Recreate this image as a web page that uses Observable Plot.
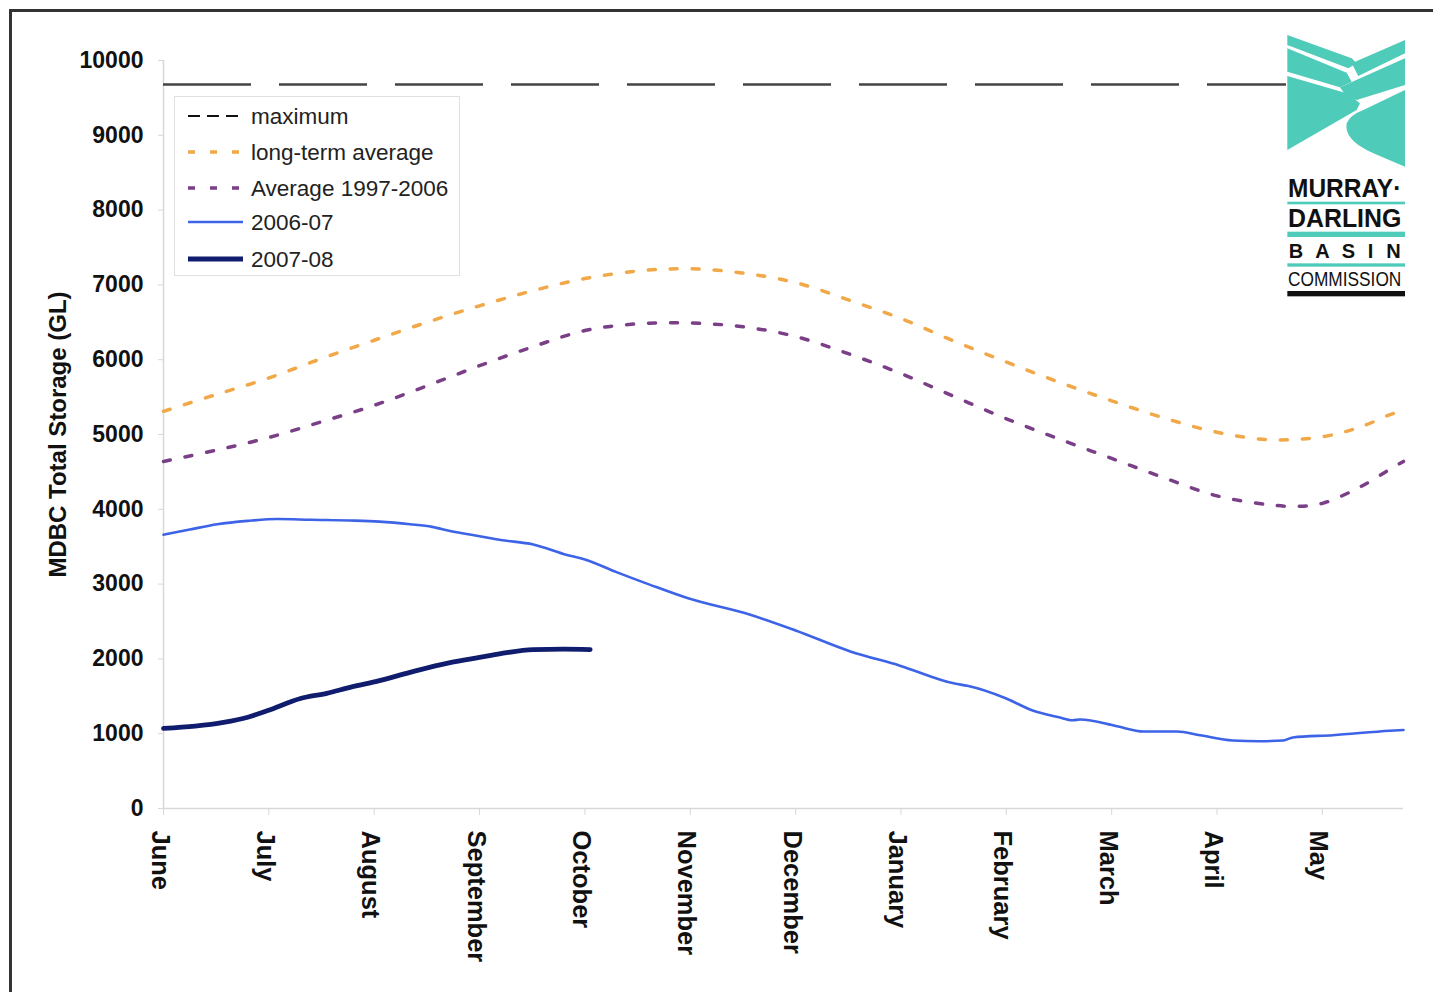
<!DOCTYPE html>
<html>
<head>
<meta charset="utf-8">
<script src="https://cdn.jsdelivr.net/npm/d3@7"></script>
<script src="https://cdn.jsdelivr.net/npm/@observablehq/plot@0.6"></script>
<style>
  html, body { margin: 0; padding: 0; background: #fff; overflow: hidden; width: 1433px; height: 992px; }
  #wrap { position: relative; width: 1433px; height: 992px; font-family: "Liberation Sans", Arial, sans-serif; }
  #frame { position: absolute; left: 9px; top: 9px; width: 1500px; height: 1100px; border: 3px solid #333; box-sizing: border-box; pointer-events: none; }
  #chart { position: absolute; left: 0; top: 0; }
  .overlay { position: absolute; left: 0; top: 0; pointer-events: none; }
</style>
</head>
<body>
<div id="wrap">
  <div id="chart"></div>
  <div id="frame"></div>
</div>
<script>
// ---------- data (x = months since start of June, 0 = June) ----------
const monthLabels = ["June","July","August","September","October","November","December","January","February","March","April","May"];
const monthTicks = [0,1,2,3,4,5,6,7,8,9,10,11];
const xEnd = 11.77;
const yTicks = [0,1000,2000,3000,4000,5000,6000,7000,8000,9000,10000];

const maximumStorage = 9680;

const longTermT = [0,0.49,0.99,1.49,2.0,2.5,3.0,3.5,4.0,4.53,5.0,5.49,6.0,6.5,7.0,7.5,8.0,8.5,9.0,9.5,10.0,10.5,11.0,11.36,11.67,11.77];
const longTermV = [5310,5530,5750,6010,6260,6500,6720,6920,7085,7190,7215,7160,7030,6800,6550,6250,5970,5700,5450,5220,5030,4930,4970,5100,5280,5310];

const avg9706T = [0,0.5,1.0,1.5,2.0,2.5,3.0,3.5,4.0,4.5,5.0,5.5,6.0,6.5,7.0,7.5,8.0,8.5,9.0,9.5,10.0,10.5,10.75,11.0,11.36,11.67,11.77];
const avg9706V = [4640,4790,4960,5170,5390,5650,5920,6170,6390,6480,6490,6440,6310,6080,5815,5510,5210,4940,4680,4420,4180,4060,4040,4080,4300,4560,4640];

const y0607T = [0,0.25,0.51,0.8,1.08,1.4,1.77,2.05,2.34,2.55,2.72,3.0,3.2,3.51,3.83,4.0,4.3,4.62,4.98,5.57,6.0,6.52,6.99,7.51,7.63,8.0,8.25,8.5,8.63,8.7,9.05,9.3,9.62,9.84,10.15,10.4,10.63,10.72,11.1,11.64,11.77];
const y0607V = [3660,3730,3800,3845,3870,3860,3850,3835,3800,3765,3710,3640,3590,3530,3390,3330,3160,2990,2810,2590,2380,2100,1910,1670,1640,1470,1310,1220,1180,1190,1100,1030,1030,980,910,900,910,950,980,1040,1050];

const y0708T = [0,0.3,0.57,0.8,0.99,1.3,1.55,1.77,2.05,2.34,2.72,3.0,3.2,3.51,3.8,4.05];
const y0708V = [1070,1100,1150,1220,1310,1470,1540,1620,1710,1820,1950,2020,2070,2125,2130,2125];

const legendLabels = ["maximum","long-term average","Average 1997-2006","2006-07","2007-08"];

// ---------- styles ----------
const C_MAX = "#444", C_LT = "#f0a848", C_AVG = "#7a3f86", C_0607 = "#3d63e6", C_0708 = "#101c6e";
const zip = (t, v) => t.map((x, i) => ({t: x, v: v[i]}));

const plot = Plot.plot({
  width: 1433,
  height: 992,
  marginLeft: 163,
  marginRight: 30,
  marginTop: 60,
  marginBottom: 184,
  style: {fontFamily: '"Liberation Sans", Arial, sans-serif', background: "transparent", overflow: "visible"},
  x: {domain: [0, xEnd]},
  y: {domain: [0, 10000]},
  marks: [
    Plot.ruleX([0], {stroke: "#d8d8d8", strokeWidth: 1.5}),
    Plot.ruleY([0], {stroke: "#d8d8d8", strokeWidth: 1.5}),
    Plot.axisY({ticks: yTicks, tickSize: 5, tickPadding: 15, stroke: "#d8d8d8", fill: "#111", fontSize: 23, fontWeight: "bold", label: null, tickFormat: d => String(d)}),
    Plot.axisX({ticks: monthTicks, tickSize: 7, stroke: "#d8d8d8", tickFormat: () => "", label: null}),
    Plot.text(monthTicks, {x: d => d, frameAnchor: "bottom", dy: 22, dx: -12, text: d => monthLabels[d], rotate: 90, textAnchor: "start", fontSize: 25.5, fontWeight: "bold", fill: "#111"}),
    Plot.text(["MDBC Total Storage (GL)"], {frameAnchor: "left", dx: -105, rotate: -90, textAnchor: "middle", fontSize: 24, fontWeight: "bold", fill: "#111", text: d => d}),
    Plot.ruleY([maximumStorage], {x1: 0, x2: xEnd, stroke: C_MAX, strokeWidth: 2.5, strokeDasharray: "88,28"}),
    Plot.line(zip(longTermT, longTermV), {x: "t", y: "v", stroke: C_LT, strokeWidth: 3.5, strokeDasharray: "7,15", curve: "catmull-rom"}),
    Plot.line(zip(avg9706T, avg9706V), {x: "t", y: "v", stroke: C_AVG, strokeWidth: 3.5, strokeDasharray: "7,15", curve: "catmull-rom"}),
    Plot.line(zip(y0607T, y0607V), {x: "t", y: "v", stroke: C_0607, strokeWidth: 2.6, curve: "monotone-x"}),
    Plot.line(zip(y0708T, y0708V), {x: "t", y: "v", stroke: C_0708, strokeWidth: 4.8, curve: "monotone-x"})
  ]
});
document.getElementById("chart").appendChild(plot);

// ---------- legend ----------
const NS = "http://www.w3.org/2000/svg";
const leg = document.createElementNS(NS, "svg");
leg.setAttribute("class", "overlay");
leg.setAttribute("width", 1433);
leg.setAttribute("height", 992);
const legStyles = [
  {stroke: "#111", w: 2, dash: "12,7"},
  {stroke: C_LT, w: 3.5, dash: "7,15"},
  {stroke: C_AVG, w: 3.5, dash: "7,15"},
  {stroke: C_0607, w: 2.6, dash: null},
  {stroke: C_0708, w: 4.8, dash: null}
];
const rowsY = [116, 152, 188, 222, 259];
let s = `<rect x="174.5" y="96.5" width="285" height="179" fill="#fff" stroke="#e0e0e0" stroke-width="1"/>`;
legendLabels.forEach((lab, i) => {
  const st = legStyles[i];
  s += `<line x1="188" x2="243" y1="${rowsY[i]}" y2="${rowsY[i]}" stroke="${st.stroke}" stroke-width="${st.w}" ${st.dash ? `stroke-dasharray="${st.dash}"` : ""}/>`;
  s += `<text x="251" y="${rowsY[i]}" dy="0.36em" font-family="Liberation Sans, Arial, sans-serif" font-size="22.5" fill="#222">${lab}</text>`;
});
leg.innerHTML = s;
document.getElementById("wrap").appendChild(leg);

// ---------- logo (decorative) ----------
const logo = document.createElementNS(NS, "svg");
logo.setAttribute("class", "overlay");
logo.setAttribute("width", 233);
logo.setAttribute("height", 320);
logo.setAttribute("viewBox", "0 0 699 960");
logo.style.left = "1200px";
logo.style.top = "0px";
const T = "#4fcbb9";
logo.innerHTML = `
  <rect x="258" y="100" width="362" height="800" fill="#fff"/>
  <polygon points="262,105 262,135 445,205 470,190 455,175" fill="${T}"/>
  <polygon points="262,145 262,215 420,262 455,245 440,218" fill="${T}"/>
  <polygon points="262,228 262,450 470,330 480,310 440,280" fill="${T}"/>
  <polygon points="455,190 615,120 615,160 475,228" fill="${T}"/>
  <polygon points="420,262 615,175 615,255 470,300 440,290" fill="${T}"/>
  <path d="M490,330 L615,270 L615,500 L520,460 Q430,420 440,370 Q450,345 490,330 Z" fill="${T}"/>
  <text x="264" y="592" font-family="Liberation Sans, Arial" font-weight="bold" font-size="78" textLength="340" lengthAdjust="spacingAndGlyphs" fill="#111">MURRAY·</text>
  <rect x="262" y="605" width="353" height="8" fill="${T}"/>
  <text x="264" y="680" font-family="Liberation Sans, Arial" font-weight="bold" font-size="78" textLength="340" lengthAdjust="spacingAndGlyphs" fill="#111">DARLING</text>
  <rect x="262" y="695" width="353" height="16" fill="${T}"/>
  <text x="266" y="774" font-family="Liberation Sans, Arial" font-weight="bold" font-size="60" textLength="336" lengthAdjust="spacing" fill="#111">B A S I N</text>
  <rect x="262" y="790" width="353" height="10" fill="${T}"/>
  <text x="264" y="858" font-family="Liberation Sans, Arial" font-size="58" textLength="340" lengthAdjust="spacingAndGlyphs" fill="#111">COMMISSION</text>
  <rect x="262" y="873" width="353" height="16" fill="#111"/>
`;
document.getElementById("wrap").appendChild(logo);
</script>
</body>
</html>
